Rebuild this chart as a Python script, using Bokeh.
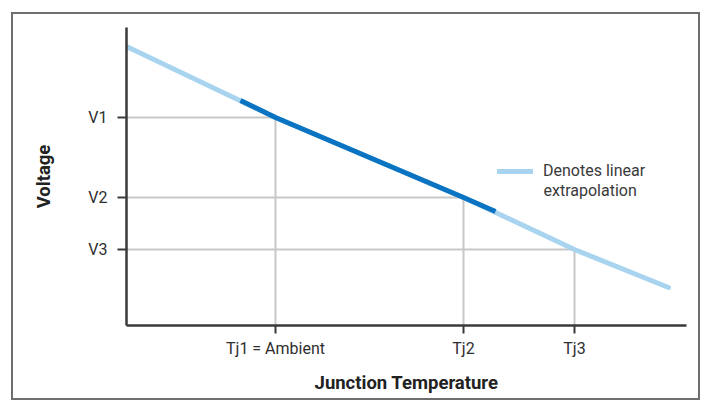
from bokeh.plotting import figure
from bokeh.models import Range1d, FixedTicker, Legend, LegendItem, Label
from bokeh.embed import file_html
from bokeh.resources import INLINE

# Data (arbitrary units)
temp_ticks = [149, 337, 448]
temp_labels = ["Tj1 = Ambient", "Tj2", "Tj3"]
volt_ticks = [208, 128, 76]
volt_labels = ["V1", "V2", "V3"]

line_x = [0, 149, 337, 448, 542]
line_y = [279, 208, 128, 76, 38]
meas_x = [114, 149, 337, 369]
meas_y = [225, 208, 128, 114]

LIGHT = "#a9d4f0"
DARK = "#0a73c2"
AXIS = "#3a3a3a"
GRID = "#c8c8c8"
FONT = "Roboto"

p = figure(width=689, height=388, output_backend="svg", toolbar_location=None,
           x_range=Range1d(0, 560), y_range=Range1d(0, 298),
           min_border_left=113, min_border_right=16, min_border_top=13, min_border_bottom=77)
p.styles = {"border": "2px solid #6e6e6e", "margin-left": "11px", "margin-top": "12px"}
p.outline_line_color = None
p.grid.visible = False

# guide lines
p.segment(x0=[0] * 3, y0=volt_ticks, x1=temp_ticks, y1=volt_ticks, line_color=GRID, line_width=2)
p.segment(x0=temp_ticks, y0=[0] * 3, x1=temp_ticks, y1=volt_ticks, line_color=GRID, line_width=2)

light = p.line(line_x, line_y, line_color=LIGHT, line_width=5, line_cap="round")
p.line(meas_x, meas_y, line_color=DARK, line_width=5)

for ax in (p.xaxis[0], p.yaxis[0]):
    ax.axis_line_color = AXIS
    ax.axis_line_width = 2.5
    ax.major_tick_line_color = AXIS
    ax.major_tick_line_width = 2
    ax.major_tick_in = 0
    ax.minor_tick_line_color = None
    ax.major_label_text_font = FONT
    ax.major_label_text_font_size = "16px"
    ax.major_label_text_color = "#2e2e2e"
    ax.axis_label_text_font = FONT
    ax.axis_label_text_font_style = "bold"
    ax.axis_label_text_font_size = "18.5px"
    ax.axis_label_text_color = "#222222"

p.xaxis.ticker = FixedTicker(ticks=temp_ticks)
p.xaxis.major_label_overrides = dict(zip(temp_ticks, temp_labels))
p.xaxis.major_tick_out = 8
p.xaxis.major_label_standoff = 5
p.xaxis.axis_label = "Junction Temperature"
p.xaxis.axis_label_standoff = 11

p.yaxis.ticker = FixedTicker(ticks=volt_ticks)
p.yaxis.major_label_overrides = dict(zip(volt_ticks, volt_labels))
p.yaxis.major_tick_out = 9
p.yaxis.major_label_standoff = 10
p.yaxis.axis_label = "Voltage"
p.yaxis.axis_label_standoff = 30

legend = Legend(items=[LegendItem(label="Denotes linear", renderers=[light])],
                location=(371, 145), glyph_width=36, glyph_height=16, label_standoff=10,
                padding=0, margin=0, border_line_color=None, background_fill_alpha=0,
                label_text_font=FONT, label_text_font_size="16px", label_text_color="#3a3a3a",
                label_height=16)
p.add_layout(legend, "center")
p.add_layout(Label(x=417, y=145, x_units="screen", y_units="screen", text="extrapolation",
                   text_font=FONT, text_font_size="16px", text_color="#3a3a3a",
                   text_baseline="top"))

open("out.html", "w").write(file_html(p, INLINE))
